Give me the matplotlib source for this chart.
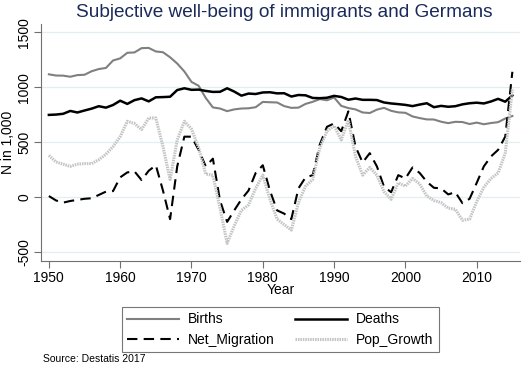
import numpy as np
import matplotlib
matplotlib.use("Agg")
import matplotlib.pyplot as plt

plt.rcParams['font.family'] = ['Liberation Sans', 'DejaVu Sans']

years = np.arange(1950, 2016)

births = [1117, 1106, 1105, 1095, 1110, 1113, 1145, 1165, 1175, 1243,
          1262, 1313, 1316, 1355, 1357, 1325, 1318, 1272, 1215, 1143,
          1048, 1013, 902, 816, 806, 782, 798, 806, 808, 818,
          866, 863, 861, 828, 812, 814, 848, 867, 892, 881,
          906, 830, 810, 798, 770, 765, 796, 812, 785, 771,
          767, 734, 719, 707, 706, 686, 673, 685, 683, 665,
          678, 663, 674, 682, 715, 738]

deaths = [748, 751, 758, 784, 770, 788, 805, 827, 814, 838,
          877, 848, 882, 898, 871, 908, 910, 913, 974, 990,
          976, 978, 966, 957, 958, 990, 960, 923, 942, 938,
          952, 954, 944, 945, 915, 929, 926, 902, 900, 904,
          921, 911, 886, 897, 885, 885, 883, 861, 852, 846,
          839, 828, 842, 854, 818, 830, 822, 827, 844, 854,
          859, 852, 870, 894, 868, 925]

net_migration = [10, -30, -50, -35, -25, -15, -10, 20, 50, 55,
                 180, 225, 235, 155, 240, 290, 60, -200, 280, 550,
                 550, 430, 280, 350, -30, -225, -120, -20, 60, 220,
                 290, 60, -120, -150, -200, 80, 180, 200, 480, 640,
                 670, 600, 780, 460, 315, 400, 280, 95, 45, 200,
                 170, 270, 220, 140, 85, 80, 25, 45, -55, -15,
                 130, 280, 370, 430, 550, 1140]

pop_growth = [380, 320, 300, 280, 300, 305, 305, 340, 390, 460,
              550, 690, 670, 615, 720, 720, 460, 160, 520, 690,
              620, 450, 210, 200, -100, -420, -260, -120, -70, 80,
              200, -20, -200, -250, -300, -50, 100, 160, 450, 600,
              650, 520, 700, 370, 200, 270, 200, 50, -20, 130,
              100, 170, 120, 10, -30, -50, -100, -110, -210, -200,
              -40, 90, 170, 220, 400, 980]

yticks = [-500, 0, 500, 1000, 1500]
xticks = [1950, 1960, 1970, 1980, 1990, 2000, 2010]

fig = plt.figure(figsize=(5.26, 3.72), dpi=100)
ax = fig.add_axes([0.078, 0.298, 0.911, 0.637])

l1, = ax.plot(years, births, color='#808080', lw=1.5, label='Births')
l2, = ax.plot(years, deaths, color='black', lw=1.8, label='Deaths')
l3, = ax.plot(years, net_migration, color='black', lw=1.5, dashes=(5, 3), label='Net_Migration')
l4, = ax.plot(years, pop_growth, color='#c4c4c4', lw=2.2, dashes=(0.5, 0.3), label='Pop_Growth')

ax.set_xlim(1948.9, 2016.1)
ax.set_ylim(-582, 1573)
ax.set_yticks(yticks)
ax.set_xticks(xticks)
ax.set_yticklabels([str(v) for v in yticks], rotation=90, va='center', fontsize=10)
ax.set_xticklabels([str(v) for v in xticks], fontsize=10)
ax.grid(axis='y', color='#e3eef0', lw=0.9)
ax.set_axisbelow(True)
for s in ['top', 'right']:
    ax.spines[s].set_visible(False)
for s in ['left', 'bottom']:
    ax.spines[s].set_color('#707070')
ax.tick_params(colors='#707070', labelcolor='black', length=5, pad=2)
ax.set_ylabel('N in 1,000', fontsize=10, labelpad=2)
ax.set_xlabel('Year', fontsize=10, labelpad=-1)

fig.suptitle('Subjective well-being of immigrants and Germans', x=0.54, y=0.99,
             fontsize=13.7, color='#1a2a5a')

leg = fig.legend([l1, l3, l2, l4], ['Births', 'Net_Migration', 'Deaths', 'Pop_Growth'],
                 loc='center', bbox_to_anchor=(0.533, 0.114), ncol=2, fontsize=10,
                 frameon=True, fancybox=False, handlelength=3.7, columnspacing=1.5,
                 borderpad=0.4, labelspacing=0.45, handletextpad=0.65)
leg.get_frame().set_edgecolor('#555555')
leg.get_frame().set_linewidth(0.8)

fig.text(0.082, 0.027, 'Source: Destatis 2017', fontsize=7.5)

fig.savefig('out.png', dpi=100)
